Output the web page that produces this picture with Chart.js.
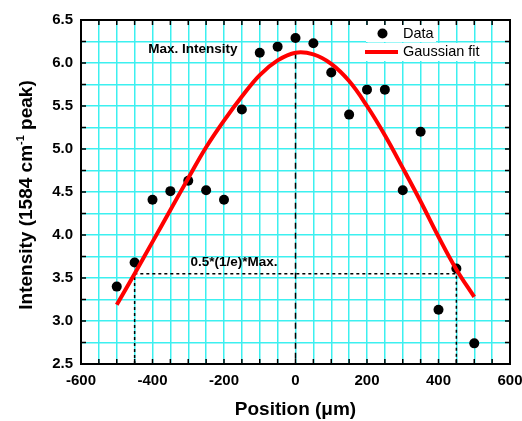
<!DOCTYPE html>
<html>
<head>
<meta charset="utf-8">
<script src="https://cdn.jsdelivr.net/npm/chart.js@4.4.0/dist/chart.umd.min.js"></script>
<style>
  html, body { margin: 0; padding: 0; background: #fff; }
  #wrap { width: 522px; height: 421px; }
</style>
</head>
<body>
<div id="wrap"><canvas id="chart"></canvas></div>
<script>
// Data
const positions = [-500, -450, -400, -350, -300, -250, -200, -150, -100, -50, 0, 50, 100, 150, 200, 250, 300, 350, 400, 450, 500];
const intensity = [3.40, 3.68, 4.41, 4.51, 4.63, 4.52, 4.41, 5.46, 6.12, 6.19, 6.29, 6.23, 5.89, 5.40, 5.69, 5.69, 4.52, 5.20, 3.13, 3.61, 2.74];
const gaussFit = [3.19, 3.55, 3.92, 4.29, 4.66, 5.02, 5.33, 5.61, 5.86, 6.03, 6.12, 6.10, 5.99, 5.79, 5.50, 5.16, 4.78, 4.39, 3.98, 3.60, 3.28];

// Guide lines (max intensity and 0.5*(1/e)*Max)
const maxLineX = [0, 0];
const maxLineY = [6.12, 2.5];
const halfLineX = [-450, -450, 450, 450];
const halfLineY = [2.5, 3.55, 3.55, 2.5];

const toXY = (xs, ys) => xs.map((x, i) => ({ x: x, y: ys[i] }));

const FAMILY = '"Liberation Sans", Arial, sans-serif';

// Frame, inward ticks, y title, notes and legend
const decorPlugin = {
  id: 'decor',
  afterDatasetsDraw(chart) {
    const ctx = chart.ctx;
    const a = chart.chartArea;
    const xs = chart.scales.x;
    const ys = chart.scales.y;
    ctx.save();

    // inward ticks on all four sides
    ctx.strokeStyle = '#000';
    ctx.lineWidth = 1.5;
    ctx.beginPath();
    xs.ticks.forEach(t => {
      const px = xs.getPixelForValue(t.value);
      ctx.moveTo(px, a.bottom); ctx.lineTo(px, a.bottom - 5);
      ctx.moveTo(px, a.top); ctx.lineTo(px, a.top + 5);
    });
    ys.ticks.forEach(t => {
      const py = ys.getPixelForValue(t.value);
      ctx.moveTo(a.left, py); ctx.lineTo(a.left + 5, py);
      ctx.moveTo(a.right, py); ctx.lineTo(a.right - 5, py);
    });
    ctx.stroke();

    // frame
    ctx.lineWidth = 2;
    ctx.strokeRect(a.left, a.top, a.right - a.left, a.bottom - a.top);

    // y axis title with superscript
    ctx.fillStyle = '#000';
    ctx.textBaseline = 'alphabetic';
    ctx.textAlign = 'left';
    const big = 'bold 19px ' + FAMILY;
    const small = 'bold 11px ' + FAMILY;
    const p1 = 'Intensity (1584 cm', sup = '-1', p2 = ' peak)';
    ctx.font = big;
    const w1 = ctx.measureText(p1).width, w3 = ctx.measureText(p2).width;
    ctx.font = small;
    const w2 = ctx.measureText(sup).width;
    const total = w1 + w2 + w3;
    ctx.save();
    ctx.translate(32, 195);
    ctx.rotate(-Math.PI / 2);
    let cx = -total / 2;
    ctx.font = big; ctx.fillText(p1, cx, 0); cx += w1;
    ctx.font = small; ctx.fillText(sup, cx, -8); cx += w2;
    ctx.font = big; ctx.fillText(p2, cx, 0);
    ctx.restore();

    // notes
    ctx.font = 'bold 13.5px ' + FAMILY;
    ctx.textBaseline = 'middle';
    ctx.fillText('Max. Intensity', xs.getPixelForValue(-412), ys.getPixelForValue(6.16));
    ctx.fillText('0.5*(1/e)*Max.', xs.getPixelForValue(-294), ys.getPixelForValue(3.68));

    // legend
    ctx.fillStyle = '#fff';
    ctx.fillRect(366, 25, 70, 17);
    ctx.fillRect(366, 43, 118, 18);
    ctx.fillStyle = '#000';
    ctx.beginPath();
    ctx.arc(382.5, 33.5, 5, 0, Math.PI * 2);
    ctx.fill();
    ctx.strokeStyle = '#f00';
    ctx.lineWidth = 4;
    ctx.beginPath();
    ctx.moveTo(365, 52); ctx.lineTo(398, 52);
    ctx.stroke();
    ctx.fillStyle = '#000';
    ctx.font = '14.5px ' + FAMILY;
    ctx.fillText('Data', 403, 34);
    ctx.fillText('Gaussian fit', 403, 52);

    ctx.restore();
  }
};

new Chart(document.getElementById('chart'), {
  type: 'scatter',
  data: {
    datasets: [
      {
        label: 'Gaussian fit',
        data: toXY(positions, gaussFit),
        showLine: true,
        borderColor: '#f00',
        borderWidth: 4,
        pointRadius: 0,
        tension: 0.4,
        order: 0
      },
      {
        label: 'Data',
        data: toXY(positions, intensity),
        backgroundColor: '#000',
        borderColor: '#000',
        pointRadius: 5,
        borderWidth: 0,
        order: 1
      },
      {
        label: 'max',
        data: toXY(maxLineX, maxLineY),
        showLine: true,
        borderColor: '#000',
        borderWidth: 1.5,
        borderDash: [6, 4],
        pointRadius: 0,
        order: 2
      },
      {
        label: 'half',
        data: toXY(halfLineX, halfLineY),
        showLine: true,
        borderColor: '#000',
        borderWidth: 1.5,
        borderDash: [3, 3],
        pointRadius: 0,
        order: 2
      }
    ]
  },
  options: {
    responsive: true,
    maintainAspectRatio: false,
    animation: false,
    events: [],
    layout: { padding: { top: 20, right: 12, left: 0, bottom: 0 } },
    plugins: { legend: { display: false }, tooltip: { enabled: false } },
    scales: {
      x: {
        type: 'linear',
        min: -600,
        max: 600,
        afterFit: s => { s.height = 57; s.paddingLeft = 0; s.paddingRight = 0; },
        grid: { color: 'rgb(60,240,240)', lineWidth: 1.5, drawTicks: false },
        border: { display: true, color: '#000', width: 2 },
        ticks: {
          stepSize: 50,
          autoSkip: false,
          maxRotation: 0,
          padding: 8,
          color: '#000',
          font: { family: FAMILY, size: 15, weight: 'bold' },
          callback: v => (v % 200 === 0 ? String(v) : '')
        },
        title: {
          display: true,
          text: 'Position (\u03bcm)',
          color: '#000',
          padding: { top: 0, bottom: 0 },
          font: { family: FAMILY, size: 19, weight: 'bold' }
        }
      },
      y: {
        min: 2.5,
        max: 6.5,
        afterFit: s => { s.width = 81; s.paddingTop = 0; s.paddingBottom = 0; },
        grid: { color: 'rgb(60,240,240)', lineWidth: 1.5, drawTicks: false },
        border: { display: true, color: '#000', width: 2 },
        ticks: {
          stepSize: 0.25,
          autoSkip: false,
          padding: 8,
          color: '#000',
          font: { family: FAMILY, size: 15, weight: 'bold' },
          callback: v => (Math.abs(v * 2 - Math.round(v * 2)) < 1e-6 ? v.toFixed(1) : '')
        }
      }
    }
  },
  plugins: [decorPlugin]
});
</script>
</body>
</html>
